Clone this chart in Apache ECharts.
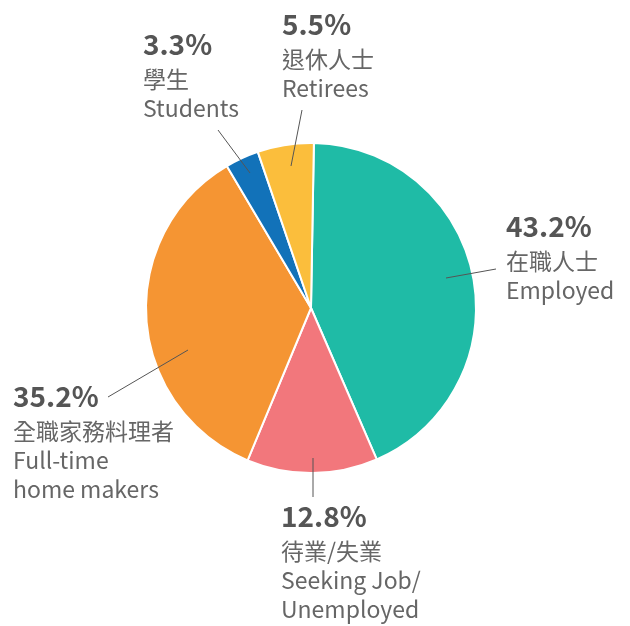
<!DOCTYPE html>
<html>
<head>
<meta charset="utf-8">
<script src="https://cdn.jsdelivr.net/npm/echarts@6/dist/echarts.min.js"></script>
<style>
  html, body { margin: 0; padding: 0; background: #fff; }
  #chart { width: 630px; height: 626px; }
</style>
</head>
<body>
<div id="chart"></div>
<script>
// slice values, in percent, clockwise from 12 o'clock
var shares = [43.2, 12.8, 35.2, 3.3, 5.5];
var namesZh = ['在職人士', '待業/失業', '全職家務料理者', '學生', '退休人士'];
var namesEn = [['Employed'], ['Seeking Job/', 'Unemployed'], ['Full-time', 'home makers'], ['Students'], ['Retirees']];
var colors = ['#1fbba6', '#f2777c', '#f59533', '#1272b9', '#fbbe3c'];

// where each label sits and how its guide line runs (pixels)
var labelSpots = [
    {x: 506, y: 205, line: [[446, 278], [496, 269]]},
    {x: 281, y: 495, line: [[313, 458], [313, 497]]},
    {x: 13, y: 375, line: [[188, 350], [108, 397]]},
    {x: 143, y: 23, line: [[250, 173], [218, 130]]},
    {x: 282, y: 3, line: [[291, 166], [302, 110]]}
];

var chart = echarts.init(document.getElementById('chart'));

let data = shares.map((v, i) => ({
    value: v,
    name: namesEn[i].join(' '),
    itemStyle: {color: colors[i]}
}));

chart.setOption({
    animation: false,
    textStyle: {
        fontFamily: '"Noto Sans CJK TC", "Noto Sans", sans-serif'
    },
    // guide lines from each slice to its label
    graphic: labelSpots.map(spot => ({
        type: 'polyline',
        z: 100,
        shape: {points: spot.line},
        style: {stroke: '#555', lineWidth: 1, fill: null}
    })),
    series: [{
        type: 'pie',
        center: [311, 308],
        radius: [0, 165],
        startAngle: 89,
        clockwise: true,
        itemStyle: {
            borderColor: '#fff',
            borderWidth: 2
        },
        label: {
            show: true,
            position: 'outside',
            overflow: 'none',
            formatter(params) {
                let i = params.dataIndex;
                let lines = ['{p|' + shares[i].toFixed(1) + '%}', '{t|' + namesZh[i] + '}'];
                for (let s of namesEn[i]) {
                    lines.push('{t|' + s + '}');
                }
                return lines.join('\n');
            },
            rich: {
                p: {
                    fontSize: 28,
                    fontWeight: 'bold',
                    color: '#555',
                    lineHeight: 42,
                    fontFamily: '"Noto Sans CJK TC", sans-serif'
                },
                t: {
                    fontSize: 23,
                    color: '#666',
                    lineHeight: 29,
                    fontFamily: '"Noto Sans CJK TC", sans-serif'
                }
            }
        },
        labelLine: {
            show: false
        },
        labelLayout(params) {
            let spot = labelSpots[params.dataIndex];
            return {
                x: spot.x,
                y: spot.y,
                align: 'left',
                verticalAlign: 'top'
            };
        },
        data: data
    }]
});
</script>
</body>
</html>
